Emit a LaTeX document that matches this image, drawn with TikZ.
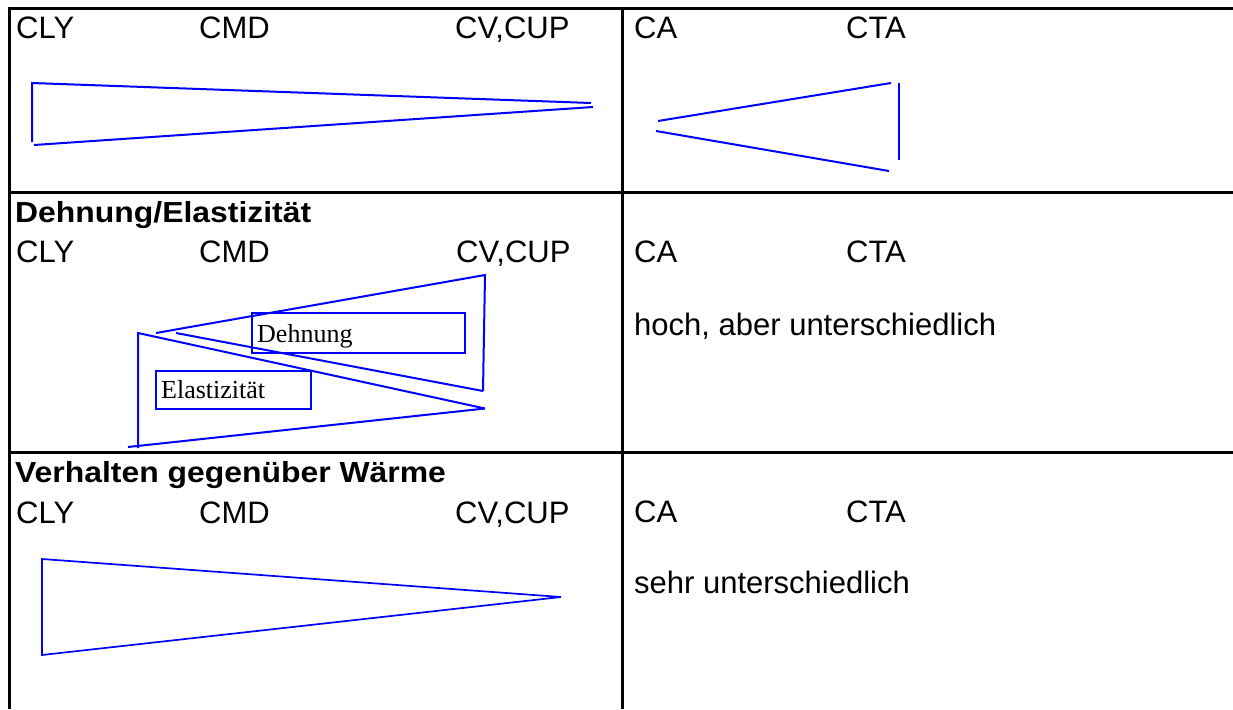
\documentclass[tikz,border=0pt]{standalone}
\usepackage{fontspec}
\setmainfont{Liberation Sans}
\newfontfamily\headfont{Liberation Sans}[FakeStretch=1.1]
\newfontfamily\seriffont{Liberation Serif}
\tikzset{
  gridline/.style={line width=3pt, black},
  blueline/.style={line width=2pt, blue},
  thinblue/.style={line width=1.7pt, blue},
  lbl/.style={anchor=base west, inner sep=0pt, font=\fontsize{31}{36}\selectfont},
  head/.style={anchor=base west, inner sep=0pt, font=\headfont\bfseries\fontsize{29}{34}\selectfont},
  boxlbl/.style={anchor=base west, inner sep=0pt, font=\seriffont\fontsize{26}{30}\selectfont},
}
\begin{document}
\begin{tikzpicture}[x=1pt,y=-1pt]
\useasboundingbox (0,0) rectangle (1233,709);
% table grid
\draw[gridline] (7.5,8.5) -- (1233,8.5);
\draw[gridline] (9,7) -- (9,709);
\draw[gridline] (622,7) -- (622,709);
\draw[gridline] (7.5,192.5) -- (1233,192.5);
\draw[gridline] (7.5,452) -- (1233,452);

% row 1
\node[lbl] (r1cly) at (16,38) {CLY};
\node[lbl] (r1cmd) at (199,38) {CMD};
\node[lbl] (r1cv) at (455,38) {CV,CUP};
\node[lbl] (r1ca) at (634,38) {CA};
\node[lbl] (r1cta) at (846,38) {CTA};
\draw[blueline] (32,142) -- (32,83) -- (591,103);
\draw[blueline] (34,145) -- (593,107);
\draw[blueline] (658,121) -- (891,83);
\draw[blueline] (656,131) -- (889,171);
\draw[blueline] (899,82.5) -- (899,159.5);

% row 2
\node[head] (r2head) at (15,222) {Dehnung/Elastizität};
\node[lbl] (r2cly) at (16,262) {CLY};
\node[lbl] (r2cmd) at (199,262) {CMD};
\node[lbl] (r2cv) at (456,262) {CV,CUP};
\node[lbl] (r2ca) at (634,262) {CA};
\node[lbl] (r2cta) at (846,262) {CTA};
\node[lbl] (r2txt) at (634,335) {hoch, aber unterschiedlich};
% Dehnung wedge
\draw[blueline] (156,333) -- (485,275) -- (483,391);
\draw[blueline] (176,333) -- (483,391);
% Elastizitaet wedge
\draw[blueline] (138,448) -- (138,333) -- (485,408.5);
\draw[blueline] (128,447) -- (485,408.5);
% label boxes
\draw[blueline] (252,313) rectangle (465,353);
\node[boxlbl] (dehn) at (257,342) {Dehnung};
\draw[blueline] (156,371) rectangle (311,409);
\node[boxlbl] (elast) at (161,398) {Elastizität};

% row 3
\node[head] (r3head) at (15,482) {Verhalten gegenüber Wärme};
\node[lbl] (r3cly) at (16,523) {CLY};
\node[lbl] (r3cmd) at (199,523) {CMD};
\node[lbl] (r3cv) at (455,523) {CV,CUP};
\node[lbl] (r3ca) at (634,522) {CA};
\node[lbl] (r3cta) at (846,522) {CTA};
\node[lbl] (r3txt) at (634,593) {sehr unterschiedlich};
\draw[thinblue] (42,559) -- (42,655) -- (561,597) -- cycle;
\end{tikzpicture}
\end{document}
